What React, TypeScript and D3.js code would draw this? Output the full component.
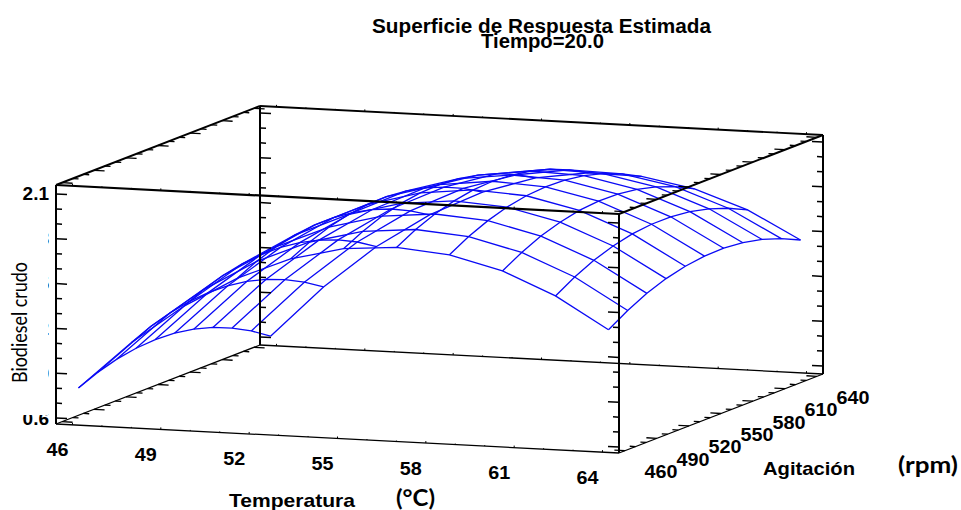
import React, { useEffect, useRef } from "react";
import * as d3 from "d3";

// grid of the fitted surface
const temperatura = [46, 47.8, 49.6, 51.4, 53.2, 55, 56.8, 58.6, 60.4, 62.2, 64];
const agitacion = [460, 478, 496, 514, 532, 550, 568, 586, 604, 622, 640];
// one row per temperature, one value per agitation
const biodiesel = [
  [0.792, 0.846, 0.885, 0.908, 0.916, 0.909, 0.886, 0.848, 0.794, 0.725, 0.64],
  [1.114, 1.171, 1.212, 1.238, 1.249, 1.244, 1.224, 1.188, 1.137, 1.07, 0.988],
  [1.378, 1.437, 1.481, 1.509, 1.522, 1.52, 1.502, 1.469, 1.421, 1.357, 1.277],
  [1.582, 1.644, 1.691, 1.722, 1.737, 1.737, 1.722, 1.691, 1.646, 1.584, 1.507],
  [1.728, 1.792, 1.841, 1.875, 1.893, 1.896, 1.883, 1.855, 1.811, 1.753, 1.678],
  [1.815, 1.881, 1.933, 1.969, 1.99, 1.995, 1.985, 1.959, 1.919, 1.862, 1.791],
  [1.842, 1.912, 1.966, 2.004, 2.028, 2.036, 2.028, 2.005, 1.967, 1.913, 1.844],
  [1.811, 1.883, 1.94, 1.981, 2.007, 2.017, 2.012, 1.992, 1.956, 1.904, 1.838],
  [1.721, 1.795, 1.855, 1.898, 1.927, 1.94, 1.937, 1.919, 1.886, 1.837, 1.773],
  [1.572, 1.649, 1.711, 1.757, 1.788, 1.803, 1.803, 1.788, 1.757, 1.711, 1.65],
  [1.364, 1.443, 1.508, 1.557, 1.59, 1.608, 1.611, 1.598, 1.57, 1.526, 1.467],
];
const tempLabels = [46, 49, 52, 55, 58, 61, 64];
const agitLabels = [460, 490, 520, 550, 580, 610, 640];
const zLabels = ["0.6", "0.9", "1.2", "1.5", "1.8", "2.1"];

const width = 961;
const height = 510;
const blue = "#0a0af5";
const arial = "'Liberation Sans', Arial, sans-serif";
const calibri = "Lato, 'Open Sans', sans-serif";

const tx = d3.scaleLinear().domain([45.44, 64.56]).range([0, 1]);
const ty = d3.scaleLinear().domain([454.4, 645.6]).range([0, 1]);
const tz = d3.scaleLinear().domain([0.56, 2.16]).range([0, 1]);

// oblique projection of the box onto the page
function project(t: number, a: number, z: number): [number, number] {
  return [
    56 + 563 * tx(t) + 204 * ty(a),
    424 + 29 * tx(t) - 79 * ty(a) - 239 * tz(z),
  ];
}

export default function App() {
  const ref = useRef<SVGSVGElement>(null);

  useEffect(() => {
    const svg = d3.select(ref.current);
    svg.selectAll("*").remove();

    const [t0, t1] = tx.domain();
    const [a0, a1] = ty.domain();
    const [z0, z1] = tz.domain();
    const line = d3.line();

    // surface wireframe
    const mesh = svg.append("g").attr("fill", "none").attr("stroke", blue).attr("stroke-width", 1.3);
    biodiesel.forEach((row, i) => {
      mesh.append("path").attr("d", line(row.map((z, j) => project(temperatura[i], agitacion[j], z))));
    });
    agitacion.forEach((a, j) => {
      mesh.append("path").attr("d", line(biodiesel.map((row, i) => project(temperatura[i], a, row[j]))));
    });

    const box = svg.append("g").attr("stroke", "#000").attr("fill", "none");
    const seg = (p: [number, number], q: [number, number], w: number) =>
      box.append("line")
        .attr("x1", p[0]).attr("y1", p[1]).attr("x2", q[0]).attr("y2", q[1])
        .attr("stroke-width", w);

    // box edges
    [[t0, a0], [t0, a1], [t1, a0], [t1, a1]].forEach(([t, a]) =>
      seg(project(t, a, z0), project(t, a, z1), 2)
    );
    [z0, z1].forEach((z) => {
      const w = z === z0 ? 1.3 : 1.9;
      seg(project(t0, a0, z), project(t1, a0, z), z === z1 ? 2.2 : w);
      seg(project(t0, a1, z), project(t1, a1, z), w);
      seg(project(t0, a0, z), project(t0, a1, z), w);
      seg(project(t1, a0, z), project(t1, a1, z), w);
    });

    // ticks on the verticals, the back ones sit a little higher
    d3.range(6, 22).forEach((k) => {
      const z = k / 10;
      const major = (k - 6) % 3 === 0;
      const len = major ? 11 : 6;
      [[t0, a0, 1], [t0, a1, 1], [t1, a0, -1], [t1, a1, -1]].forEach(([t, a, dir]) => {
        const p = project(t, a, z);
        const y = a === a1 ? p[1] - 2 : p[1];
        seg([p[0], y], [p[0] + dir * len, y + (dir * len * 29) / 563], 1.5);
      });
    });

    // ticks on the agitation edges
    d3.range(460, 641, 10).forEach((a) => {
      const major = (a - 460) % 30 === 0;
      const dt = major ? 0.36 : 0.2;
      [z0, z1].forEach((z) => {
        seg(project(t0, a, z), project(t0 + dt, a, z), 1.3);
        seg(project(t1, a, z), project(t1 - dt, a, z), 1.3);
      });
    });

    // ticks on the temperature edges are only small blips
    d3.range(46, 65).forEach((t) => {
      const major = (t - 46) % 3 === 0;
      const len = major ? 2 : 1;
      [a0, a1].forEach((a) => {
        [z0, z1].forEach((z) => {
          const p = project(t, a, z);
          seg(p, [p[0], p[1] - len], 1);
        });
      });
    });

    const text = (s: string, x: number, y: number, size: number, anchor: string, w: number, font = arial, len?: number) => {
      const el = svg.append("text")
        .attr("x", x).attr("y", y)
        .attr("font-family", font).attr("font-size", size).attr("font-weight", w)
        .attr("text-anchor", anchor).attr("fill", "#000")
        .text(s);
      if (len) el.attr("textLength", len).attr("lengthAdjust", "spacingAndGlyphs");
      return el;
    };

    // z labels, mostly covered in the original by a pasted white patch
    zLabels.forEach((s) => {
      const p = project(t0, a0, +s);
      text(s, 49, p[1] + 6.5, 19, "end", 700);
    });
    svg.append("rect").attr("x", 0).attr("y", 204).attr("width", 48).attr("height", 211).attr("fill", "#fff");

    tempLabels.forEach((t) => {
      const p = project(t, a0, z0);
      text(String(t), p[0] - 15, p[1] + 31.5, 19, "middle", 700, arial, 22);
    });
    agitLabels.forEach((a) => {
      const p = project(t1, a, z0);
      text(String(a), p[0] + 36, p[1] + 27.5, 19, "middle", 700, arial, 33);
    });

    text("Superficie de Respuesta Estimada", 372, 33, 20, "start", 700, arial, 339);
    text("Tiempo=20.0", 481, 48, 20, "start", 700, arial, 123);
    text("Temperatura", 229, 507, 19, "start", 700, arial, 126);
    text("Agitación", 763, 475, 19, "start", 700, arial, 92);
    text("(rpm)", 898, 473, 22, "start", 700, calibri, 60);
    text("(°C)", 396, 506, 22, "start", 700, calibri, 39);
    text("Biodiesel crudo", 0, 0, 21, "middle", 400, calibri, 121)
      .attr("transform", "translate(27,322.5) rotate(-90)");
  }, []);

  return <svg ref={ref} width={width} height={height} style={{ position: "absolute", left: 0, top: 0, background: "#fff" }} />;
}
